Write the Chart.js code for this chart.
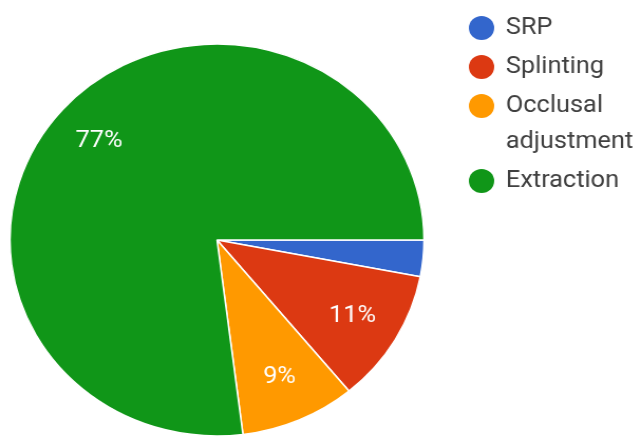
<!DOCTYPE html>
<html>
<head>
    <title>Treatment</title>
    <script src="https://cdn.jsdelivr.net/npm/chart.js"></script>
    <style>
        html, body { margin: 0; padding: 0; background: #fff; overflow: hidden; }
        /* the reference is slightly stretched horizontally */
        .chart-container {
            position: absolute;
            left: 0;
            top: 0;
            width: 607px;
            height: 437px;
            transform: scaleX(1.056);
            transform-origin: 0 0;
        }
    </style>
</head>
<body>
<div class="chart-container">
    <canvas id="pieChart" width="607" height="437"></canvas>
</div>

<script>
    const labels = ['SRP', 'Splinting', 'Occlusal adjustment', 'Extraction'];
    const values = [3, 11, 9, 77];
    const colors = ['#3366cc', '#dc3912', '#ff9900', '#109618'];

    // percentage labels inside the slices
    const sliceLabels = {
        id: 'sliceLabels',
        afterDatasetsDraw(chart) {
            const ctx = chart.ctx;
            const arcs = chart.getDatasetMeta(0).data;
            const total = values.reduce((a, b) => a + b, 0);
            ctx.save();
            ctx.font = '24px Roboto';
            ctx.fillStyle = '#ffffff';
            ctx.textAlign = 'center';
            ctx.textBaseline = 'middle';
            arcs.forEach((arc, i) => {
                const pct = values[i] / total * 100;
                if (pct < 5) return;
                const mid = (arc.startAngle + arc.endAngle) / 2;
                const r = arc.outerRadius * 0.76;
                ctx.fillText(Math.round(pct) + '%', arc.x + Math.cos(mid) * r, arc.y + Math.sin(mid) * r);
            });
            ctx.restore();
        }
    };

    // legend on the right, top aligned, with word wrap
    const sideLegend = {
        id: 'sideLegend',
        afterDraw(chart) {
            const ctx = chart.ctx;
            ctx.save();
            ctx.font = '24px Roboto';
            ctx.textBaseline = 'middle';
            let y = 28;
            labels.forEach((text, i) => {
                const words = text.split(' ');
                const lines = [];
                let cur = '';
                words.forEach(w => {
                    const test = cur ? cur + ' ' + w : w;
                    if (cur && ctx.measureText(test).width > 125) {
                        lines.push(cur);
                        cur = w;
                    } else {
                        cur = test;
                    }
                });
                lines.push(cur);

                ctx.fillStyle = colors[i];
                ctx.beginPath();
                ctx.arc(456, y, 12, 0, Math.PI * 2);
                ctx.fill();

                ctx.fillStyle = '#404040';
                lines.forEach((ln, j) => ctx.fillText(ln, 479, y + j * 36));
                y += (lines.length - 1) * 36 + 39;
            });
            ctx.restore();
        }
    };

    const chart = new Chart(document.getElementById('pieChart'), {
        type: 'pie',
        data: {
            labels: labels,
            datasets: [{
                data: values,
                backgroundColor: colors,
                borderColor: '#ffffff',
                borderWidth: 1.5,
                hoverOffset: 0,
                radius: 196
            }]
        },
        options: {
            responsive: false,
            animation: false,
            rotation: 90,
            layout: {
                padding: { left: 10, right: 206, top: 44, bottom: 1 }
            },
            plugins: {
                legend: { display: false },
                tooltip: { enabled: false }
            }
        },
        plugins: [sliceLabels, sideLegend]
    });
</script>
</body>
</html>
